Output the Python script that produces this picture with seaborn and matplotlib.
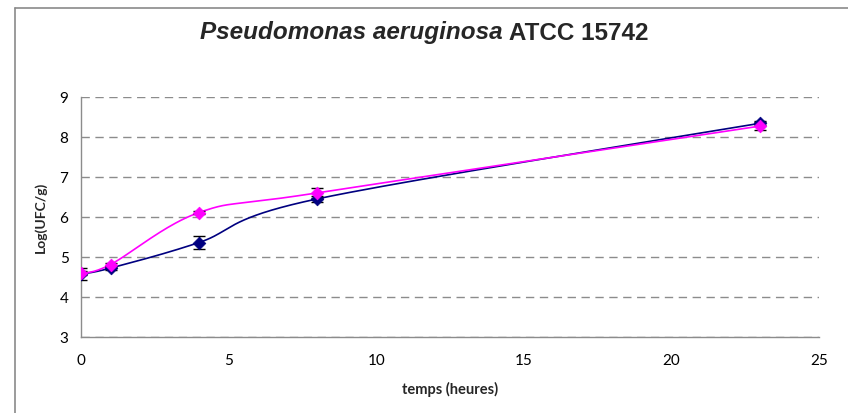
import numpy as np
import pandas as pd
import matplotlib
matplotlib.use("Agg")
import matplotlib.pyplot as plt
import seaborn as sns
from matplotlib.lines import Line2D

# ==========================================================
# DATA
# ==========================================================

temps = [0, 1, 4, 8, 23]

serie_bleue = [4.58, 4.73, 5.37, 6.46, 8.35]
err_bleue = [0.15, 0.05, 0.17, 0.07, 0.05]

serie_rose = [4.60, 4.82, 6.12, 6.61, 8.28]
err_rose = [0.05, 0.05, 0.04, 0.12, 0.10]

X_TICKS = [0, 5, 10, 15, 20, 25]
Y_TICKS = [3, 4, 5, 6, 7, 8, 9]

NAVY = "#000080"
MAGENTA = "#FF00FF"

# ==========================================================
# SMOOTH LINE (Excel style bezier)
# ==========================================================

def smooth_curve(x, y, n=40):
    x = np.asarray(x, float)
    y = np.asarray(y, float)
    pts = np.column_stack([x, y])
    out = []
    for i in range(len(pts) - 1):
        p0 = pts[i - 1] if i > 0 else pts[i]
        p1 = pts[i]
        p2 = pts[i + 1]
        p3 = pts[i + 2] if i + 2 < len(pts) else pts[i + 1]
        c1 = p1 + (p2 - p0) / 6.0
        c2 = p2 - (p3 - p1) / 6.0
        t = np.linspace(0, 1, n)[:, None]
        seg = ((1 - t) ** 3) * p1 + 3 * ((1 - t) ** 2) * t * c1 + 3 * (1 - t) * t ** 2 * c2 + t ** 3 * p2
        out.append(seg if i == 0 else seg[1:])
    seg = np.vstack(out)
    return seg[:, 0], seg[:, 1]

# ==========================================================
# PLOT
# ==========================================================

sns.set_style("white")
plt.rcParams["font.family"] = ["Lato", "DejaVu Sans"]

fig = plt.figure(figsize=(8.48, 4.13), dpi=100)
ax = fig.add_axes([81 / 848, 1 - 337.3 / 413, (819 - 81) / 848, (337.3 - 97.3) / 413])

# outer chart border (top + left visible)
fig.add_artist(Line2D([15 / 848, 15 / 848], [0, 1 - 7.5 / 413], transform=fig.transFigure,
                      color="#8a8a8a", lw=1.2))
fig.add_artist(Line2D([15 / 848, 1], [1 - 7.5 / 413, 1 - 7.5 / 413], transform=fig.transFigure,
                      color="#8a8a8a", lw=1.2))

for y_vals, err, color in [(serie_bleue, err_bleue, NAVY), (serie_rose, err_rose, MAGENTA)]:
    sx, sy = smooth_curve(temps, y_vals)
    curve = pd.DataFrame({"x": sx, "y": sy})
    sns.lineplot(data=curve, x="x", y="y", sort=False, color=color, linewidth=1.2, ax=ax, zorder=3)
    ax.errorbar(temps, y_vals, yerr=err, fmt="none", ecolor="black", elinewidth=1.0,
                capsize=4.5, capthick=1.0, zorder=4)

for y_vals, color in [(serie_bleue, NAVY), (serie_rose, MAGENTA)]:
    pts = pd.DataFrame({"x": temps, "y": y_vals})
    sns.scatterplot(data=pts, x="x", y="y", marker="D", s=42, color=color,
                    edgecolor=color, linewidth=0.5, ax=ax, zorder=5)

ax.set_xlim(0, 25)
ax.set_ylim(3, 9)
ax.set_xticks(X_TICKS)
ax.set_yticks(Y_TICKS)
ax.yaxis.grid(True, linestyle=(0, (6, 4)), color="#8c8c8c", linewidth=1.0)
ax.xaxis.grid(False)
ax.set_axisbelow(True)

for side in ["top", "right"]:
    ax.spines[side].set_visible(False)
for side in ["left", "bottom"]:
    ax.spines[side].set_color("#8c8c8c")
    ax.spines[side].set_linewidth(1.0)

ax.tick_params(axis="both", direction="out", length=4, width=1.0, color="#8c8c8c",
               labelsize=11, labelcolor="black")
ax.tick_params(axis="x", pad=8)
ax.tick_params(axis="y", pad=5)

ax.set_xlabel("temps (heures)", fontsize=10.5, fontweight="bold", labelpad=10)
ax.set_ylabel("Log(UFC/g)", fontsize=10, fontweight="bold", labelpad=9)

# title : italic species name + bold strain
t1 = fig.text(0, 1 - 33 / 413, "Pseudomonas aeruginosa", fontsize=17.5, fontweight="bold",
              fontstyle="italic", family="Liberation Sans", va="center", ha="left")
t2 = fig.text(0, 1 - 33 / 413, " ATCC 15742", fontsize=17.5, fontweight="bold",
              family="Liberation Sans", va="center", ha="left")
fig.canvas.draw()
r = fig.canvas.get_renderer()
w1 = t1.get_window_extent(r).width
w2 = t2.get_window_extent(r).width
x0 = (424.5 - (w1 + w2) / 2) / 848
t1.set_x(x0)
t2.set_x(x0 + w1 / 848)

fig.savefig("out.png", dpi=100)
